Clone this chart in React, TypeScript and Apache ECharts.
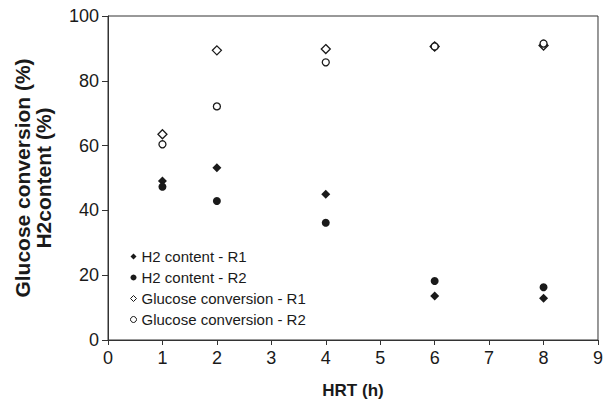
import React, { useEffect, useRef } from "react";
import * as echarts from "echarts";

const hrt = [1, 2, 4, 6, 8];
const h2R1 = [49.1, 53.2, 45.0, 13.6, 12.9];
const h2R2 = [47.3, 42.9, 36.2, 18.2, 16.3];
const glcR1 = [63.5, 89.4, 89.8, 90.6, 90.9];
const glcR2 = [60.4, 72.1, 85.7, 90.6, 91.5];
const xTicks = [0, 1, 2, 3, 4, 5, 6, 7, 8, 9];
const yTicks = [0, 20, 40, 60, 80, 100];

const seriesNames = [
  "H2 content - R1",
  "H2 content - R2",
  "Glucose conversion - R1",
  "Glucose conversion - R2",
];

const FONT = "'Liberation Sans', Arial, sans-serif";
const INK = "#1a1a1a";

function pairs(vals: number[]) {
  return hrt.map((x, i) => [x, vals[i]]);
}

export default function App() {
  const ref = useRef<HTMLDivElement>(null);
  useEffect(() => {
    if (!ref.current) return;
    const chart = echarts.init(ref.current, null, { renderer: "svg" });
    const filled = { color: INK, opacity: 1 };
    const hollow = { color: "#fff", borderColor: INK, borderWidth: 1.3, opacity: 1 };
    chart.setOption({
      animation: false,
      backgroundColor: "#fff",
      grid: {
        left: 108,
        top: 16,
        right: 6,
        bottom: 65,
        show: true,
        borderColor: "#333",
        borderWidth: 1,
        backgroundColor: "transparent",
      },
      xAxis: {
        type: "value",
        min: xTicks[0],
        max: xTicks[xTicks.length - 1],
        interval: 1,
        splitLine: { show: false },
        axisLine: { show: true, onZero: false, lineStyle: { color: "#333", width: 1 } },
        axisTick: { show: true, inside: false, length: 5, lineStyle: { color: "#333" } },
        axisLabel: { fontFamily: FONT, fontSize: 18, color: INK, margin: 9 },
        name: "HRT (h)",
        nameLocation: "middle",
        nameGap: 42,
        nameTextStyle: { fontFamily: FONT, fontSize: 17, fontWeight: "bold", color: INK },
      },
      yAxis: {
        type: "value",
        min: yTicks[0],
        max: yTicks[yTicks.length - 1],
        interval: 20,
        splitLine: { show: false },
        axisLine: { show: true, onZero: false, lineStyle: { color: "#333", width: 1 } },
        axisTick: { show: true, inside: false, length: 6, lineStyle: { color: "#333" } },
        axisLabel: { fontFamily: FONT, fontSize: 18, color: INK, margin: 9 },
      },
      legend: {
        orient: "vertical",
        left: 125,
        top: 244,
        itemWidth: 6,
        itemHeight: 6,
        itemGap: 6,
        itemStyle: { borderWidth: 1 },
        textStyle: { fontFamily: FONT, fontSize: 15, color: INK, lineHeight: 15 },
        data: seriesNames,
      },
      graphic: [
        {
          type: "text",
          x: 22,
          y: 178,
          rotation: Math.PI / 2,
          style: {
            text: "Glucose conversion (%)",
            font: `bold 21px ${FONT}`,
            fill: INK,
            align: "center",
            verticalAlign: "middle",
          },
        },
        {
          type: "text",
          x: 43,
          y: 178,
          rotation: Math.PI / 2,
          style: {
            text: "H2content (%)",
            font: `bold 21px ${FONT}`,
            fill: INK,
            align: "center",
            verticalAlign: "middle",
          },
        },
      ],
      series: [
        { name: seriesNames[0], type: "scatter", symbol: "diamond", symbolSize: 9, itemStyle: filled, data: pairs(h2R1) },
        { name: seriesNames[1], type: "scatter", symbol: "circle", symbolSize: 8, itemStyle: filled, data: pairs(h2R2) },
        { name: seriesNames[2], type: "scatter", symbol: "diamond", symbolSize: 9, itemStyle: hollow, data: pairs(glcR1) },
        { name: seriesNames[3], type: "scatter", symbol: "circle", symbolSize: 7, itemStyle: hollow, data: pairs(glcR2) },
      ],
    });
    return () => chart.dispose();
  }, []);
  return <div ref={ref} style={{ width: 606, height: 405, position: "fixed", left: 0, top: 0 }} />;
}
